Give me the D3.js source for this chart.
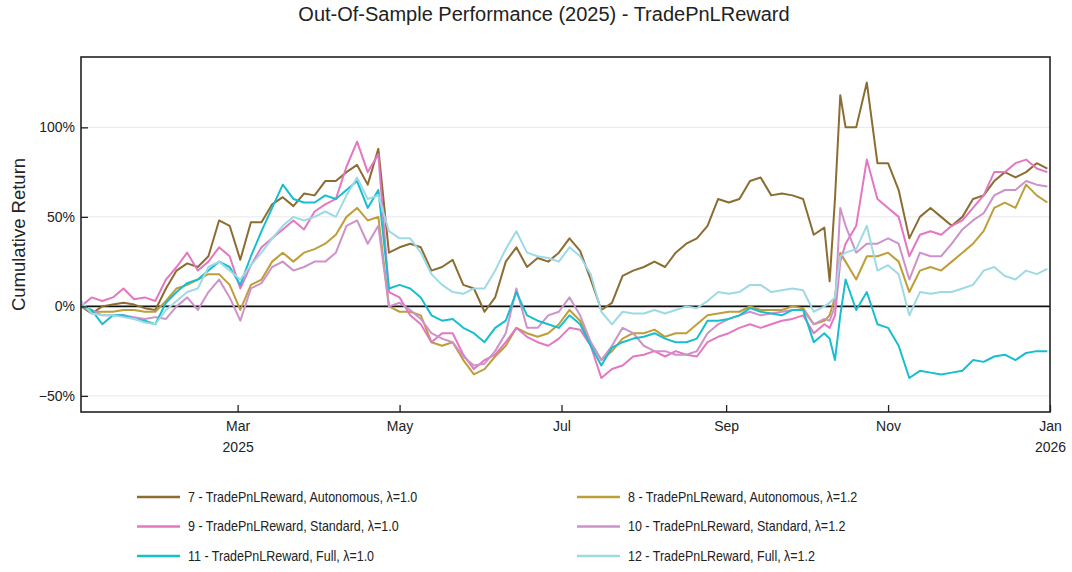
<!DOCTYPE html>
<html>
<head>
<meta charset="utf-8">
<script src="https://cdn.jsdelivr.net/npm/d3@7"></script>
<style>
  body { margin: 0; background: #fff; }
  text { font-family: "Liberation Sans", Arial, sans-serif; fill: #222; }
</style>
</head>
<body>
<div id="chart1"></div>
<script>
// day of year (2025) for each sample
var days = [0,4,8,12,16,20,24,28,32,36,40,44,48,52,56,60,64,68,72,76,80,84,88,92,96,100,104,108,112,116,120,
  124,128,132,136,140,144,148,152,156,160,164,168,172,176,180,184,188,192,196,200,204,208,212,216,220,224,228,232,236,240,
  244,248,252,256,260,264,268,272,276,280,282,284,286,288,292,296,300,304,308,312,316,320,324,328,332,336,340,344,348,352,356,360,364];

// cumulative return in percent
var s7 = [0,-4,0,1,2,1,-1,-2,10,20,24,22,28,48,45,26,47,47,57,61,56,63,62,70,70,75,79,68,88,30,33,
  35,33,20,22,26,12,10,-3,5,25,33,22,27,25,30,38,31,15,-2,2,17,20,22,25,22,30,35,38,45,60,
  58,60,70,72,62,63,62,60,40,44,14,60,118,100,100,125,80,80,65,38,50,55,50,45,50,60,62,70,75,72,75,80,77];
var s8 = [0,-3,-3,-3,-2,-2,-3,-3,3,10,12,15,18,18,12,-2,12,15,25,30,25,30,32,35,40,50,55,48,50,0,-3,
  -3,-5,-20,-22,-20,-30,-38,-35,-28,-22,-12,-15,-17,-15,-10,-2,-8,-20,-30,-25,-18,-15,-15,-13,-17,-15,-15,-10,-5,-4,
  -3,-3,0,-2,-2,-2,0,-1,-10,-8,-5,5,30,25,15,28,28,30,25,8,20,22,20,25,30,35,42,55,58,55,68,62,58];
var s9 = [0,5,3,5,10,4,5,3,15,22,30,20,25,33,28,10,23,33,38,43,48,43,53,57,60,78,92,75,85,8,5,
  -5,-10,-20,-15,-15,-27,-35,-30,-27,-20,-12,-17,-20,-22,-18,-12,-13,-22,-40,-35,-33,-28,-27,-25,-28,-25,-27,-28,-20,-17,
  -15,-12,-10,-12,-10,-8,-7,-5,-15,-10,-12,-5,25,35,45,82,60,55,50,28,40,42,40,45,48,55,62,75,75,80,82,77,75];
var s10 = [0,-2,-5,-5,-5,-6,-7,-6,-7,0,5,-2,8,15,5,-8,10,13,22,25,20,22,25,25,30,45,48,35,45,0,2,
  -2,-7,-15,-18,-20,-28,-33,-32,-25,-15,10,-12,-12,-5,-3,5,-5,-20,-30,-22,-12,-15,-22,-25,-25,-27,-27,-25,-15,-10,
  -7,-5,-3,-5,-4,-3,-2,-2,-10,-7,-8,0,55,45,30,35,35,38,35,15,30,28,28,35,43,48,52,62,65,65,70,68,67];
var s11 = [0,-2,-10,-5,-5,-7,-8,-10,2,8,13,15,20,25,22,12,28,42,55,68,60,58,58,62,60,65,70,55,65,10,12,
  10,5,-5,-8,-7,-12,-15,-20,-12,-8,8,-5,-8,-10,-12,-5,-10,-22,-33,-23,-20,-18,-17,-15,-18,-20,-20,-18,-8,-8,
  -7,-5,-1,-3,-4,-5,-2,-2,-20,-15,-18,-30,-5,15,-2,8,-10,-12,-22,-40,-36,-37,-38,-37,-36,-30,-31,-28,-27,-30,-26,-25,-25];
var s12 = [3,-4,-5,-5,-6,-7,-9,-10,-2,3,8,10,22,25,20,15,23,30,38,45,50,48,50,53,50,62,72,60,62,42,38,
  38,30,18,12,8,7,10,10,20,32,42,30,28,27,25,33,28,18,-3,-10,-3,-4,-4,-2,-4,-2,0,-1,3,8,
  7,8,12,12,8,9,10,9,-3,0,2,5,28,30,32,45,20,23,18,-5,8,7,8,8,10,12,20,22,17,15,20,18,21];

var seriesNames = ["7 - TradePnLReward, Autonomous, λ=1.0", "8 - TradePnLReward, Autonomous, λ=1.2",
  "9 - TradePnLReward, Standard, λ=1.0", "10 - TradePnLReward, Standard, λ=1.2",
  "11 - TradePnLReward, Full, λ=1.0", "12 - TradePnLReward, Full, λ=1.2"];
var seriesValues = [s7, s8, s9, s10, s11, s12];
var seriesColors = ["#8c6d31", "#bd9e39", "#e377c2", "#cd92c8", "#17becf", "#9edae5"];

var xTickDates = ["2025-03-01", "2025-05-01", "2025-07-01", "2025-09-01", "2025-11-01", "2026-01-01"];
var xTickLabels = [["Mar", "2025"], ["May"], ["Jul"], ["Sep"], ["Nov"], ["Jan", "2026"]];
var yTicks = [-50, 0, 50, 100];

// set margins and dimensions of graph
var margin = {top: 57, right: 22, bottom: 160, left: 81},
    width = 1072 - margin.left - margin.right,
    height = 572 - margin.top - margin.bottom;

var root = d3.select("#chart1")
  .append("svg")
  .attr("width", 1072)
  .attr("height", 572);

var svg = root.append("g")
  .attr("transform", "translate(" + margin.left + "," + margin.top + ")");

var parse = d3.timeParse("%Y-%m-%d");
var start = parse("2025-01-01");

var x = d3.scaleTime()
  .domain([start, parse("2026-01-01")])
  .range([0, width]);

var y = d3.scaleLinear()
  .domain([-59, 139.3])
  .range([height, 0]);

// grid lines
svg.selectAll("line.grid")
  .data(yTicks.filter(function(d) { return d !== 0; }))
  .enter()
  .append("line")
    .attr("class", "grid")
    .attr("x1", 0)
    .attr("x2", width)
    .attr("y1", function(d) { return y(d); })
    .attr("y2", function(d) { return y(d); })
    .attr("stroke", "#e8e8e8")
    .attr("stroke-width", 1);

// zero line
svg.append("line")
  .attr("x1", 0).attr("x2", width)
  .attr("y1", y(0)).attr("y2", y(0))
  .attr("stroke", "#111")
  .attr("stroke-width", 1.6);

// series lines
var line = d3.line()
  .x(function(d) { return x(d3.timeDay.offset(start, d[0])); })
  .y(function(d) { return y(d[1]); });

seriesValues.forEach(function(vals, i) {
  svg.append("path")
    .datum(days.map(function(d, j) { return [d, vals[j]]; }))
    .attr("fill", "none")
    .attr("stroke", seriesColors[i])
    .attr("stroke-width", 2)
    .attr("stroke-linejoin", "round")
    .attr("d", line);
});

// frame
svg.append("rect")
  .attr("x", 0).attr("y", 0)
  .attr("width", width).attr("height", height)
  .attr("fill", "none")
  .attr("stroke", "#222")
  .attr("stroke-width", 1.6);

// y axis
var yAxis = svg.append("g")
  .call(d3.axisLeft(y).tickValues(yTicks).tickSize(-7).tickPadding(6)
    .tickFormat(function(d) { return (d < 0 ? "\u2212" + Math.abs(d) : d) + "%"; }));
yAxis.select(".domain").remove();
yAxis.selectAll("line").attr("stroke", "#222").attr("stroke-width", 1.3);
yAxis.selectAll("text").style("font-size", "14px").attr("fill", "#222");

// x axis
var xAxis = svg.append("g")
  .attr("transform", "translate(0," + height + ")")
  .call(d3.axisBottom(x).tickValues(xTickDates.map(parse)).tickSize(-7).tickFormat(""));
xAxis.select(".domain").remove();
xAxis.selectAll("line").attr("stroke", "#222").attr("stroke-width", 1.3);
xAxis.selectAll(".tick").each(function(d, i) {
  var t = d3.select(this).append("text")
    .attr("text-anchor", "middle")
    .style("font-size", "14px")
    .attr("fill", "#222");
  xTickLabels[i].forEach(function(s, k) {
    t.append("tspan").attr("x", 0).attr("y", 19 + k * 21).text(s);
  });
});

// title
root.append("text")
  .attr("x", 544)
  .attr("y", 21)
  .attr("text-anchor", "middle")
  .style("font-size", "20px")
  .text("Out-Of-Sample Performance (2025) - TradePnLReward");

// y axis label
root.append("text")
  .attr("transform", "translate(25," + (margin.top + height / 2) + ")rotate(-90)")
  .attr("text-anchor", "middle")
  .style("font-size", "18.5px")
  .text("Cumulative Return");

// legend
var legend = root.selectAll("g.legend")
  .data(seriesNames)
  .enter()
  .append("g")
    .attr("class", "legend")
    .attr("transform", function(d, i) {
      return "translate(" + (i % 2 === 0 ? 137 : 577) + "," + (497 + Math.floor(i / 2) * 29.5) + ")";
    });

legend.append("line")
  .attr("x1", 0).attr("x2", 43)
  .attr("y1", 0).attr("y2", 0)
  .attr("stroke", function(d, i) { return seriesColors[i]; })
  .attr("stroke-width", 2.5);

// legend text is narrow in the original, so squeeze it a bit
legend.append("text")
  .attr("transform", "translate(51,0) scale(0.88,1)")
  .attr("dy", "0.35em")
  .style("font-size", "14.2px")
  .text(function(d) { return d; });
</script>
</body>
</html>
